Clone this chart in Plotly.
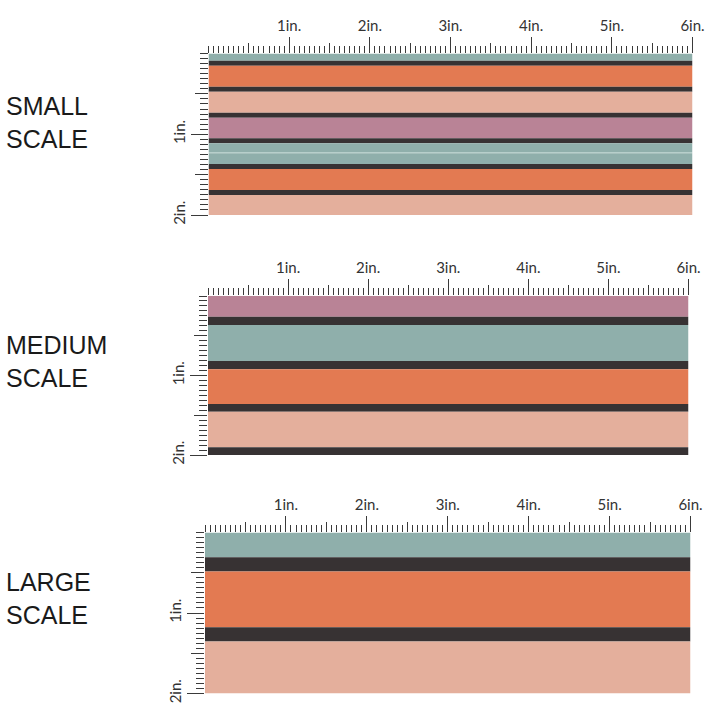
import plotly.graph_objects as go
import numpy as np

# ---------------- data (inches) ----------------
panel_titles = ["SMALL<br>SCALE", "MEDIUM<br>SCALE", "LARGE<br>SCALE"]

small_colors = ["teal", "dark", "orange", "dark", "pink", "dark", "mauve", "dark",
                "teal", "light", "teal", "dark", "orange", "dark", "pink"]
small_heights = [0.089, 0.062, 0.260, 0.062, 0.261, 0.062, 0.255, 0.062,
                 0.110, 0.013, 0.133, 0.062, 0.260, 0.062, 0.247]

medium_colors = ["mauve", "dark", "teal", "dark", "orange", "dark", "pink", "dark"]
medium_heights = [0.260, 0.105, 0.453, 0.104, 0.436, 0.097, 0.448, 0.097]

large_colors = ["teal", "dark", "orange", "dark", "pink"]
large_heights = [0.307, 0.177, 0.692, 0.178, 0.646]

fabric_width = 6.0
inch_labels = ["", "1in.", "2in.", "3in.", "4in.", "5in.", "6in."]
inch_vals = [0, 1, 2, 3, 4, 5, 6]
half_vals_x = [0.5, 1.5, 2.5, 3.5, 4.5, 5.5]
yinch_labels = ["", "1in.", "2in."]
yinch_vals = [0, 1, 2]
half_vals_y = [0.5, 1.5]

# ---------------- styles ----------------
palette = {
    "teal": "#8FAFAB",
    "dark": "#373233",
    "orange": "#E37A52",
    "pink": "#E4AF9C",
    "mauve": "#B98396",
    "light": "#A9C6C1",
}
W = H = 720.0
# pixel boxes of each fabric panel: (left, right, top, bottom)
boxes = [(208.5, 692.5, 53.5, 215.0),
         (208.0, 688.5, 296.0, 455.0),
         (205.0, 690.5, 532.5, 693.5)]
label_y = [122, 361, 598]
tick_color = "#3a3a3a"
tick_font = dict(family="Lato, 'Liberation Sans', sans-serif", size=15, color="#333333")

fig = go.Figure()
panels = [(small_colors, small_heights), (medium_colors, medium_heights),
          (large_colors, large_heights)]

sixteenths_x = list(np.arange(0, fabric_width + 1e-9, 1 / 16))
sixteenths_y = list(np.arange(0, 2 + 1e-9, 1 / 16))

for i, ((cols, hts), box) in enumerate(zip(panels, boxes)):
    n = i + 1
    xa = "x" if n == 1 else f"x{n}"
    ya = "y" if n == 1 else f"y{n}"
    edges = np.concatenate([[0], np.cumsum(hts)])
    mids = (edges[:-1] + edges[1:]) / 2
    fig.add_trace(go.Bar(
        orientation="h", x=[fabric_width] * len(hts), base=0, y=mids, width=hts,
        marker=dict(color=[palette[c] for c in cols], line=dict(width=0)),
        xaxis=xa, yaxis=ya, hoverinfo="skip", showlegend=False))
    l, r, t, b = box
    xd = [l / W, r / W]
    yd = [1 - b / H, 1 - t / H]
    common = dict(showgrid=False, zeroline=False, showline=False, fixedrange=True,
                  automargin=False)
    fig.layout[f"xaxis{'' if n == 1 else n}"] = dict(
        domain=xd, anchor=ya, range=[0, fabric_width], side="top",
        tickmode="array", tickvals=inch_vals, ticktext=inch_labels,
        ticks="outside", ticklen=16, tickwidth=1, tickcolor=tick_color,
        tickfont=tick_font,
        minor=dict(tickmode="array", tickvals=sixteenths_x, ticks="outside",
                   ticklen=7, tickwidth=1, tickcolor=tick_color),
        **common)
    fig.layout[f"yaxis{'' if n == 1 else n}"] = dict(
        domain=yd, anchor=xa, range=[2, 0], side="left",
        tickmode="array", tickvals=yinch_vals, ticktext=yinch_labels,
        ticks="outside", ticklen=17, tickwidth=1, tickcolor=tick_color,
        tickfont=tick_font, tickangle=-90,
        minor=dict(tickmode="array", tickvals=sixteenths_y, ticks="outside",
                   ticklen=8, tickwidth=1, tickcolor=tick_color),
        **common)
    # half-inch ticks on overlay axes
    m = n + 3
    fig.layout[f"xaxis{m}"] = dict(
        overlaying=xa, anchor=ya, range=[0, fabric_width], side="top",
        tickmode="array", tickvals=half_vals_x, showticklabels=False,
        ticks="outside", ticklen=10, tickwidth=1, tickcolor=tick_color, **common)
    fig.layout[f"yaxis{m}"] = dict(
        overlaying=ya, anchor=xa, range=[2, 0], side="left",
        tickmode="array", tickvals=half_vals_y, showticklabels=False,
        ticks="outside", ticklen=13, tickwidth=1, tickcolor=tick_color, **common)
    fig.add_trace(go.Scatter(x=[None], y=[None], xaxis=f"x{m}", yaxis=ya,
                             showlegend=False, hoverinfo="skip"))
    fig.add_trace(go.Scatter(x=[None], y=[None], xaxis=xa, yaxis=f"y{m}",
                             showlegend=False, hoverinfo="skip"))
    fig.add_annotation(text=panel_titles[i], xref="paper", yref="paper",
                       x=5 / W, y=1 - label_y[i] / H, xanchor="left", yanchor="middle",
                       align="left", showarrow=False, borderpad=0,
                       font=dict(family="'Liberation Sans', Arial, sans-serif",
                                 size=25, color="#1a1a1a"))

fig.update_layout(width=720, height=720, margin=dict(l=0, r=0, t=0, b=0, autoexpand=False),
                  paper_bgcolor="white", plot_bgcolor="white", barmode="overlay",
                  showlegend=False)
fig.write_html("out.html", config={"displayModeBar": False, "staticPlot": True},
               post_script="document.body.style.margin='0px';"
                           "document.body.style.padding='0px';"
                           "document.body.style.overflow='hidden';")
